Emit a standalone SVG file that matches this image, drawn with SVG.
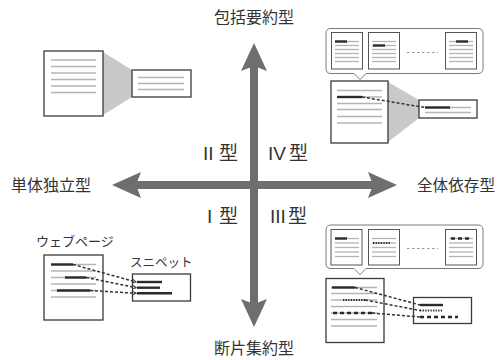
<svg xmlns="http://www.w3.org/2000/svg" width="497" height="360" viewBox="0 0 497 360">
<defs>
<style>
.lbl{font-family:"Noto Sans CJK JP","Noto Sans",sans-serif;fill:#333;}
.num{font-family:"Liberation Sans","Noto Sans CJK JP",sans-serif;fill:#333;font-size:19px;}
.pg{fill:#fff;stroke:#3a3a3a;stroke-width:1.3;}
.sp{fill:#fff;stroke:#555;stroke-width:1;}
.gl{stroke:#b4b4b4;stroke-width:1.3;}
.dk{stroke:#2a2a2a;stroke-width:2.4;}
.dt{stroke:#2a2a2a;stroke-width:2;stroke-dasharray:1.3 1.3;}
.dh{stroke:#2a2a2a;stroke-width:2.6;stroke-dasharray:4 3;}
.tz{fill:#c9c9ca;}
.bub{fill:#fff;stroke:#7a7a7a;stroke-width:1;}
.sep{stroke:#999;stroke-width:1;stroke-dasharray:2.5 2.5;}
.cn{stroke:#333;stroke-width:1.5;stroke-dasharray:3 2;fill:none;}
.ax{fill:#6e6e6e;}
</style>
<marker id="ah" markerWidth="5" markerHeight="5" refX="4" refY="2.5" orient="auto" markerUnits="userSpaceOnUse">
<path d="M0,0.5 L4,2.5 L0,4.5" fill="none" stroke="#333" stroke-width="1"/>
</marker>
</defs>
<rect width="497" height="360" fill="#fff"/>

<g id="axes">
<rect class="ax" x="250" y="66" width="8" height="238"/>
<rect class="ax" x="136" y="181" width="237" height="8"/>
<polygon class="ax" points="254,43 267,71 254,66 241,71"/>
<polygon class="ax" points="254,327 267,299 254,304 241,299"/>
<polygon class="ax" points="112,185 141,172 136,185 141,198"/>
<polygon class="ax" points="397,185 368,172 373,185 368,198"/>
</g>

<g id="axis-labels">
<text class="lbl" x="254" y="23" font-size="16" text-anchor="middle">包括要約型</text>
<text class="lbl" x="254" y="354" font-size="16" text-anchor="middle">断片集約型</text>
<text class="lbl" x="11" y="191" font-size="16">単体独立型</text>
<text class="lbl" x="417" y="191" font-size="15.6">全体依存型</text>
</g>

<g id="quadrant-labels">
<text class="num" y="160"><tspan x="203">II</tspan><tspan x="219" font-family="Noto Sans CJK JP,sans-serif">型</tspan></text>
<text class="num" y="160"><tspan x="268">IV</tspan><tspan x="289" font-family="Noto Sans CJK JP,sans-serif">型</tspan></text>
<text class="num" y="223"><tspan x="207">I</tspan><tspan x="219" font-family="Noto Sans CJK JP,sans-serif">型</tspan></text>
<text class="num" y="223"><tspan x="270">III</tspan><tspan x="288" font-family="Noto Sans CJK JP,sans-serif">型</tspan></text>
</g>

<g id="type2-illustration">
<polygon class="tz" points="103,52 132,70 132,97 103,115"/>
<rect class="pg" x="44" y="51" width="59" height="65"/>
<g class="gl">
<line x1="51" y1="60" x2="96" y2="60"/><line x1="51" y1="66.5" x2="96" y2="66.5"/>
<line x1="51" y1="73" x2="96" y2="73"/><line x1="51" y1="79.5" x2="96" y2="79.5"/>
<line x1="51" y1="86" x2="96" y2="86"/><line x1="51" y1="92.5" x2="96" y2="92.5"/>
</g>
<rect class="pg" x="132" y="70" width="59" height="27"/>
<g class="gl">
<line x1="138" y1="77.5" x2="184" y2="77.5"/><line x1="138" y1="83.5" x2="184" y2="83.5"/><line x1="138" y1="89.5" x2="184" y2="89.5"/>
</g>
</g>

<g id="type4-illustration">
<path class="bub" d="M331,28.5 H478 Q483,28.5 483,33.5 V68.5 Q483,73.5 478,73.5 H366 L360,79.5 L354,73.5 H331 Q326,73.5 326,68.5 V33.5 Q326,28.5 331,28.5 Z"/>
<rect class="sp" x="331.5" y="32.5" width="31" height="36.5"/>
<rect class="sp" x="368.5" y="32.5" width="31" height="36.5"/>
<rect class="sp" x="445.5" y="32.5" width="31" height="36.5"/>
<g class="gl">
<line x1="335" y1="41.5" x2="359" y2="41.5"/><line x1="335" y1="45.5" x2="359" y2="45.5"/><line x1="335" y1="49.5" x2="359" y2="49.5"/><line x1="335" y1="53.5" x2="359" y2="53.5"/><line x1="335" y1="57.5" x2="359" y2="57.5"/><line x1="335" y1="61.5" x2="359" y2="61.5"/>
<line x1="372" y1="41.5" x2="396" y2="41.5"/><line x1="372" y1="45.5" x2="396" y2="45.5"/><line x1="372" y1="49.5" x2="396" y2="49.5"/><line x1="372" y1="53.5" x2="396" y2="53.5"/><line x1="372" y1="57.5" x2="396" y2="57.5"/><line x1="372" y1="61.5" x2="396" y2="61.5"/>
<line x1="449" y1="41.5" x2="473" y2="41.5"/><line x1="449" y1="45.5" x2="473" y2="45.5"/><line x1="449" y1="49.5" x2="473" y2="49.5"/><line x1="449" y1="53.5" x2="473" y2="53.5"/><line x1="449" y1="57.5" x2="473" y2="57.5"/><line x1="449" y1="61.5" x2="473" y2="61.5"/>
</g>
<line class="dk" x1="335" y1="41.5" x2="347" y2="41.5"/>
<line class="dk" x1="373" y1="45.5" x2="385" y2="45.5"/>
<line class="dk" x1="456" y1="41.5" x2="468" y2="41.5"/>
<line class="sep" x1="407" y1="52.5" x2="438" y2="52.5"/>
<polygon class="tz" points="388,82 419,100 419,118 388,142"/>
<rect class="pg" x="331" y="81" width="57" height="62"/>
<g class="gl">
<line x1="337" y1="90.5" x2="382" y2="90.5"/><line x1="337" y1="97" x2="382" y2="97"/><line x1="337" y1="103.5" x2="382" y2="103.5"/>
<line x1="337" y1="109.5" x2="382" y2="109.5"/><line x1="337" y1="116.5" x2="382" y2="116.5"/><line x1="337" y1="123" x2="382" y2="123"/>
</g>
<line class="dk" x1="337" y1="97" x2="362" y2="97"/>
<rect class="pg" x="419" y="100" width="58" height="18"/>
<g class="gl">
<line x1="425" y1="107.5" x2="471" y2="107.5"/><line x1="425" y1="112.5" x2="471" y2="112.5"/>
</g>
<line class="dk" x1="425" y1="107.5" x2="450" y2="107.5"/>
</g>

<g id="type1-illustration">
<text class="lbl" x="36" y="246" font-size="13">ウェブページ</text>
<text class="lbl" x="130" y="267" font-size="12.5">スニペット</text>
<rect class="pg" x="44" y="255" width="59" height="65"/>
<g class="gl">
<line x1="51" y1="264.5" x2="96" y2="264.5"/><line x1="51" y1="271" x2="96" y2="271"/>
<line x1="51" y1="277.5" x2="96" y2="277.5"/><line x1="51" y1="284" x2="96" y2="284"/>
<line x1="51" y1="290.5" x2="96" y2="290.5"/><line x1="51" y1="297" x2="96" y2="297"/>
</g>
<line class="dk" x1="51" y1="264.5" x2="73" y2="264.5"/>
<line class="dk" x1="65" y1="277.5" x2="86" y2="277.5"/>
<line class="dk" x1="57" y1="290.5" x2="90" y2="290.5"/>
<rect class="pg" x="132.5" y="274" width="58" height="27"/>
<line class="dk" x1="137" y1="282" x2="162" y2="282"/>
<line class="dk" x1="137" y1="287.7" x2="160" y2="287.7"/>
<line class="dk" x1="137" y1="293.3" x2="172" y2="293.3"/>
</g>

<g id="type3-illustration">
<path class="bub" d="M331,225 H478 Q483,225 483,230 V263.5 Q483,268.5 478,268.5 H366 L360,274.5 L354,268.5 H331 Q326,268.5 326,263.5 V230 Q326,225 331,225 Z"/>
<rect class="sp" x="331" y="229.5" width="31" height="35.5"/>
<rect class="sp" x="368.5" y="229.5" width="31" height="35.5"/>
<rect class="sp" x="445.5" y="229.5" width="31" height="35.5"/>
<g class="gl">
<line x1="335" y1="238.5" x2="359" y2="238.5"/><line x1="335" y1="243" x2="359" y2="243"/><line x1="335" y1="247.5" x2="359" y2="247.5"/><line x1="335" y1="252" x2="359" y2="252"/><line x1="335" y1="256.5" x2="359" y2="256.5"/>
<line x1="372" y1="238.5" x2="396" y2="238.5"/><line x1="372" y1="243" x2="396" y2="243"/><line x1="372" y1="247.5" x2="396" y2="247.5"/><line x1="372" y1="252" x2="396" y2="252"/><line x1="372" y1="256.5" x2="396" y2="256.5"/>
<line x1="449" y1="238.5" x2="473" y2="238.5"/><line x1="449" y1="243" x2="473" y2="243"/><line x1="449" y1="247.5" x2="473" y2="247.5"/><line x1="449" y1="252" x2="473" y2="252"/><line x1="449" y1="256.5" x2="473" y2="256.5"/>
</g>
<line class="dk" x1="335" y1="238.5" x2="347" y2="238.5"/>
<line class="dt" x1="373" y1="243" x2="390" y2="243"/>
<line class="dh" x1="451" y1="238.5" x2="472" y2="238.5"/>
<line class="sep" x1="407" y1="248.5" x2="438" y2="248.5"/>
<rect class="pg" x="326" y="278.5" width="58" height="64"/>
<g class="gl">
<line x1="331" y1="287.5" x2="377" y2="287.5"/><line x1="331" y1="293.5" x2="377" y2="293.5"/><line x1="331" y1="300" x2="377" y2="300"/>
<line x1="331" y1="306.5" x2="377" y2="306.5"/><line x1="331" y1="313" x2="377" y2="313"/><line x1="331" y1="319.5" x2="377" y2="319.5"/><line x1="331" y1="326" x2="377" y2="326"/>
</g>
<line class="dk" x1="332" y1="287.5" x2="355" y2="287.5"/>
<line class="dt" x1="343" y1="300" x2="365" y2="300"/>
<line class="dh" x1="333" y1="313" x2="372" y2="313"/>
<rect class="pg" x="413.5" y="297.5" width="58" height="26"/>
<line class="dk" x1="420" y1="305" x2="443" y2="305"/>
<line class="dt" x1="420" y1="310.5" x2="443" y2="310.5"/>
<line class="dh" x1="420" y1="317" x2="458" y2="317"/>
</g>

<g id="connectors">
<line class="cn" x1="362" y1="97" x2="425" y2="107.5"/>
<line class="cn" x1="73" y1="264.5" x2="136" y2="282" marker-end="url(#ah)"/>
<line class="cn" x1="86" y1="277.5" x2="136" y2="287.7" marker-end="url(#ah)"/>
<line class="cn" x1="90" y1="290.5" x2="136" y2="293.3" marker-end="url(#ah)"/>
<line class="cn" x1="355" y1="287.5" x2="420" y2="305"/>
<line class="cn" x1="365" y1="300" x2="420" y2="310.5"/>
<line class="cn" x1="372" y1="313" x2="420" y2="317"/>
</g>
</svg>
